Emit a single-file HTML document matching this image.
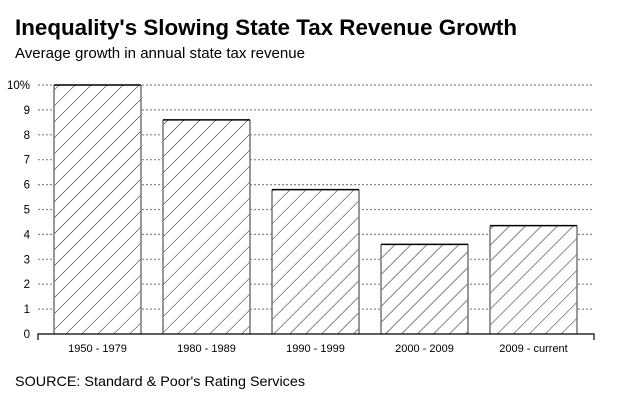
<!DOCTYPE html>
<html><head><meta charset="utf-8"><style>
body{margin:0;background:#fff;font-family:"Liberation Sans",Arial,sans-serif;}
svg{display:block}
</style></head><body>
<svg width="630" height="400" viewBox="0 0 630 400">
<defs>
<pattern id="hatch" patternUnits="userSpaceOnUse" width="11.3" height="11.3" patternTransform="rotate(45)">
<line x1="0" y1="0" x2="0" y2="11.3" stroke="#000" stroke-width="0.9"/>
</pattern>
</defs>
<text x="15" y="35" font-size="22" font-weight="bold" fill="#000" textLength="502" lengthAdjust="spacingAndGlyphs">Inequality's Slowing State Tax Revenue Growth</text>
<text x="15" y="58" font-size="15" fill="#000" textLength="290" lengthAdjust="spacingAndGlyphs">Average growth in annual state tax revenue</text>
<g id="grid"></g>
<g id="bars"></g>
<g id="xlabels"></g>
<text x="15" y="386" font-size="14" fill="#000" textLength="290" lengthAdjust="spacingAndGlyphs">SOURCE: Standard &amp; Poor's Rating Services</text>
</svg>
<script>
const categories = ["1950 - 1979","1980 - 1989","1990 - 1999","2000 - 2009","2009 - current"];
const values = [10, 8.6, 5.8, 3.6, 4.35];
const yTicks = [0,1,2,3,4,5,6,7,8,9,10];
const yTickLabels = ["0","1","2","3","4","5","6","7","8","9","10%"];

const NS="http://www.w3.org/2000/svg";
const x0=38, x1=594, y0=334, yTop=85, yMax=10;
const y = v => y0 - (y0-yTop)*v/yMax;
const band = 109;
const bw = 87;
const xc = i => 43 + band*(i+0.5);
function mk(tag, attrs, parent){const e=document.createElementNS(NS,tag);for(const k in attrs)e.setAttribute(k,attrs[k]);parent.appendChild(e);return e;}
const grid=document.getElementById('grid'), bars=document.getElementById('bars'), xl=document.getElementById('xlabels');
yTicks.forEach((t,i)=>{
  if(t>0){
    const l=mk('line',{x1:x0,x2:x1,y1:y(t),y2:y(t),stroke:'#888','stroke-width':1.2,'stroke-dasharray':'2,2'},grid);
    
    
  }
  const tx=mk('text',{x:30,y:y(t)+4,'font-size':11.5,'text-anchor':'end',fill:'#000'},grid);
  tx.textContent=yTickLabels[i];
  
  
});
values.forEach((v,i)=>{
  const g=mk('g',{},bars);
  
  
  const bx=xc(i)-bw/2;
  mk('rect',{x:bx,y:y(v),width:bw,height:y0-y(v),fill:'#fff'},g);
  mk('rect',{x:bx,y:y(v),width:bw,height:y0-y(v),fill:'url(#hatch)'},g);
  mk('line',{x1:bx,x2:bx,y1:y(v),y2:y0,stroke:'#777','stroke-width':1.5},g);
  mk('line',{x1:bx+bw,x2:bx+bw,y1:y(v),y2:y0,stroke:'#777','stroke-width':1.5},g);
  mk('line',{x1:bx,x2:bx+bw,y1:y(v),y2:y(v),stroke:'#000','stroke-width':1.5},g);
  const t=mk('text',{x:xc(i),y:352,'font-size':11,'text-anchor':'middle',fill:'#000'},xl);
  t.textContent=categories[i];
  
  
});
const ax=mk('path',{d:`M${x0},${y0+6}V${y0}H${x1}V${y0+6}`,fill:'none',stroke:'#000','stroke-width':1.2},grid.parentNode);


</script>
</body></html>
